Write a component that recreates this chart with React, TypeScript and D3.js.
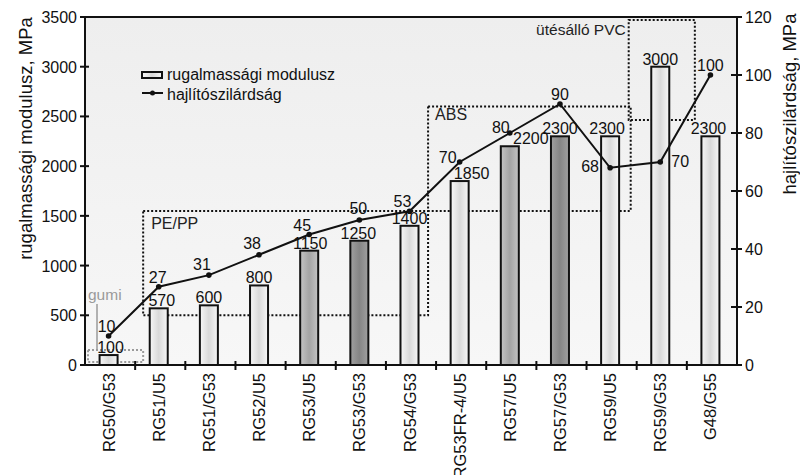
import React from "react";
import * as d3 from "d3";

// Materials (x categories)
const categories = [
  "RG50/G53", "RG51/U5", "RG51/G53", "RG52/U5", "RG53/U5", "RG53/G53", "RG54/G53",
  "RG53FR-4/U5", "RG57/U5", "RG57/G53", "RG59/U5", "RG59/G53", "G48/G55",
];
// rugalmassági modulusz, MPa (bars, left axis)
const modulus = [100, 570, 600, 800, 1150, 1250, 1400, 1850, 2200, 2300, 2300, 3000, 2300];
// hajlítószilárdság, MPa (line, right axis)
const strength = [10, 27, 31, 38, 45, 50, 53, 70, 80, 90, 68, 70, 100];
// bar shade group: 0 light, 1 medium, 2 dark
const shade = [0, 0, 0, 0, 1, 2, 0, 0, 1, 2, 0, 0, 0];

const leftTicks = [0, 500, 1000, 1500, 2000, 2500, 3000, 3500];
const rightTicks = [0, 20, 40, 60, 80, 100, 120];

// material family regions: first and last category index, modulus range
const groups = [
  { name: "gumi", from: 0, to: 0, lo: 30, hi: 150 },
  { name: "PE/PP", from: 1, to: 6, lo: 500, hi: 1550 },
  { name: "ABS", from: 7, to: 10, lo: 1550, hi: 2600 },
  { name: "ütésálló PVC", from: 11, to: 11, lo: 2465, hi: 3470 },
];
// horizontal insets of each region box relative to its band edges
const groupInset: [number, number][] = [[3, 8], [8, -8], [-8, -6], [-8, 8]];

const W = 800;
const H = 475;
const M = { left: 85, right: 737, top: 17, bottom: 365 };
const FONT = "'Liberation Sans', Arial, Helvetica, sans-serif";

// label nudges [dx, dy] relative to the marker
const lineLabelNudge: [number, number][] = [
  [-2, -4], [-1, -4], [-7, -5], [-7, -6], [-7, -4], [-1, -6], [-7, -4],
  [-12, 1], [-9, 0], [0, -4], [-20, 4], [20, 5], [0, -4],
];
const barLabelNudge = [2, 3, 0, 0, 1, -1, 0, 12, 21, 0, -3, 0, -2];

const shadeFill = ["url(#barLight)", "url(#barMid)", "url(#barDark)"];

export default function App() {
  const x = d3.scaleBand<string>().domain(categories).range([M.left, M.right]).paddingInner(0).paddingOuter(0);
  const yL = d3.scaleLinear().domain([0, 3500]).range([M.bottom, M.top]);
  const yR = d3.scaleLinear().domain([0, 120]).range([M.bottom, M.top]);
  const bw = 18;
  const cx = (i: number) => (x(categories[i]) as number) + x.bandwidth() / 2 - 1.5;

  const line = d3
    .line<number>()
    .x((_, i) => cx(i))
    .y((d) => yR(d));

  const boundaries = categories.slice(1).map((c) => x(c) as number);

  const groupRect = (i: number) => {
    const g = groups[i];
    const x0 = (x(categories[g.from]) as number) + groupInset[i][0];
    const x1 = (x(categories[g.to]) as number) + x.bandwidth() + groupInset[i][1];
    return { x0, x1, y0: yL(g.hi), y1: yL(g.lo) };
  };

  return (
    <svg
      width={W}
      height={H}
      style={{ position: "absolute", left: 0, top: 0, background: "#fff" }}
      fontFamily={FONT}
    >
      <defs>
        <linearGradient id="plotBg" x1="0" y1="0" x2="0" y2="1">
          <stop offset="0" stopColor="#eeeeee" />
          <stop offset="1" stopColor="#f7f7f7" />
        </linearGradient>
        <linearGradient id="barLight" x1="0" y1="0" x2="1" y2="0">
          <stop offset="0" stopColor="#f7f7f7" />
          <stop offset="0.5" stopColor="#d9d9d9" />
          <stop offset="1" stopColor="#f7f7f7" />
        </linearGradient>
        <linearGradient id="barMid" x1="0" y1="0" x2="1" y2="0">
          <stop offset="0" stopColor="#c4c4c4" />
          <stop offset="0.5" stopColor="#a4a4a4" />
          <stop offset="1" stopColor="#c4c4c4" />
        </linearGradient>
        <linearGradient id="barDark" x1="0" y1="0" x2="1" y2="0">
          <stop offset="0" stopColor="#a0a0a0" />
          <stop offset="0.5" stopColor="#858585" />
          <stop offset="1" stopColor="#a0a0a0" />
        </linearGradient>
      </defs>

      {/* plot area */}
      <rect x={M.left} y={M.top} width={M.right - M.left} height={M.bottom - M.top} fill="url(#plotBg)" />

      {/* family regions */}
      {groups.map((g, i) => {
        const r = groupRect(i);
        return (
          <rect
            key={g.name}
            x={r.x0}
            y={r.y0}
            width={r.x1 - r.x0}
            height={r.y1 - r.y0}
            fill="none"
            stroke={i === 0 ? "#9a9a9a" : "#111"}
            strokeWidth={2}
            strokeDasharray="2,2"
          />
        );
      })}

      {/* bars */}
      {modulus.map((v, i) => (
        <rect
          key={categories[i]}
          x={cx(i) - bw / 2}
          y={yL(v)}
          width={bw}
          height={M.bottom - yL(v)}
          fill={shadeFill[shade[i]]}
          stroke="#111"
          strokeWidth={2}
        />
      ))}

      {/* bar value labels */}
      {modulus.map((v, i) => (
        <text
          key={"bl" + i}
          x={cx(i) + barLabelNudge[i]}
          y={yL(v) - 2}
          textAnchor="middle"
          fontSize={16}
          fill="#111"
        >
          {v}
        </text>
      ))}

      {/* family labels */}
      <text x={88} y={300} fontSize={15.5} fill="#9a9a9a">gumi</text>
      <line x1={97} x2={97} y1={304} y2={349} stroke="#9a9a9a" strokeWidth={1.5} />
      <text x={groupRect(1).x0 + 8} y={229} fontSize={16} fill="#222">PE/PP</text>
      <text x={groupRect(2).x0 + 7} y={120} fontSize={16} fill="#222">ABS</text>
      <text x={groupRect(3).x0 - 3} y={35} fontSize={15.5} fill="#222" textAnchor="end">ütésálló PVC</text>

      {/* strength line */}
      <path d={line(strength) || ""} fill="none" stroke="#111" strokeWidth={2} />
      {strength.map((v, i) => (
        <circle key={"p" + i} cx={cx(i)} cy={yR(v)} r={2.8} fill="#111" />
      ))}
      {strength.map((v, i) => (
        <text
          key={"ll" + i}
          x={cx(i) + lineLabelNudge[i][0]}
          y={yR(v) + lineLabelNudge[i][1]}
          textAnchor="middle"
          fontSize={16}
          fill="#111"
        >
          {v}
        </text>
      ))}

      {/* frame: top, left axis, right axis, bottom axis */}
      <line x1={M.left} x2={M.right} y1={M.top} y2={M.top} stroke="#111" strokeWidth={2} />
      <line x1={M.left} x2={M.left} y1={M.top} y2={M.bottom} stroke="#111" strokeWidth={2} />
      <line x1={M.right} x2={M.right} y1={M.top} y2={M.bottom} stroke="#111" strokeWidth={2} />
      <line x1={M.left} x2={M.right} y1={M.bottom} y2={M.bottom} stroke="#111" strokeWidth={2} />

      {/* left axis ticks */}
      {leftTicks.map((t) => (
        <g key={"lt" + t}>
          <line x1={M.left - 5} x2={M.left + 4} y1={yL(t)} y2={yL(t)} stroke="#111" strokeWidth={2} />
          <text x={M.left - 8} y={yL(t) + 6} textAnchor="end" fontSize={16} fill="#111">
            {t}
          </text>
        </g>
      ))}

      {/* right axis ticks */}
      {rightTicks.map((t) => (
        <g key={"rt" + t}>
          <line x1={M.right - 6} x2={M.right + 5} y1={yR(t)} y2={yR(t)} stroke="#111" strokeWidth={2} />
          <text x={M.right + 8} y={yR(t) + 6} textAnchor="start" fontSize={16} fill="#111">
            {t}
          </text>
        </g>
      ))}

      {/* x axis ticks at category boundaries */}
      {boundaries.map((b, i) => (
        <line key={"xt" + i} x1={b} x2={b} y1={M.bottom - 4} y2={M.bottom + 5} stroke="#111" strokeWidth={2} />
      ))}

      {/* category labels */}
      {categories.map((c, i) => (
        <text
          key={"xl" + c}
          transform={`translate(${cx(i) + 6},${M.bottom + 8}) rotate(-90)`}
          textAnchor="end"
          fontSize={16.5}
          fill="#111"
        >
          {c}
        </text>
      ))}

      {/* axis titles */}
      <text
        transform={`translate(32,${(15 + 262) / 2}) rotate(-90)`}
        textAnchor="middle"
        fontSize={18.5}
        fill="#111"
      >
        rugalmassági modulusz, MPa
      </text>
      <text
        transform={`translate(796,104) rotate(-90)`}
        textAnchor="middle"
        fontSize={18.5}
        fill="#111"
      >
        hajlítószilárdság, MPa
      </text>

      {/* legend */}
      <rect x={142} y={72} width={20} height={6} fill="url(#barLight)" stroke="#111" strokeWidth={2} />
      <text x={167} y={80} fontSize={16} fill="#111">rugalmassági modulusz</text>
      <line x1={142} x2={163} y1={93} y2={93} stroke="#111" strokeWidth={2} />
      <circle cx={152.5} cy={93} r={2.5} fill="#111" />
      <text x={167} y={100} fontSize={16} fill="#111">hajlítószilárdság</text>
    </svg>
  );
}
